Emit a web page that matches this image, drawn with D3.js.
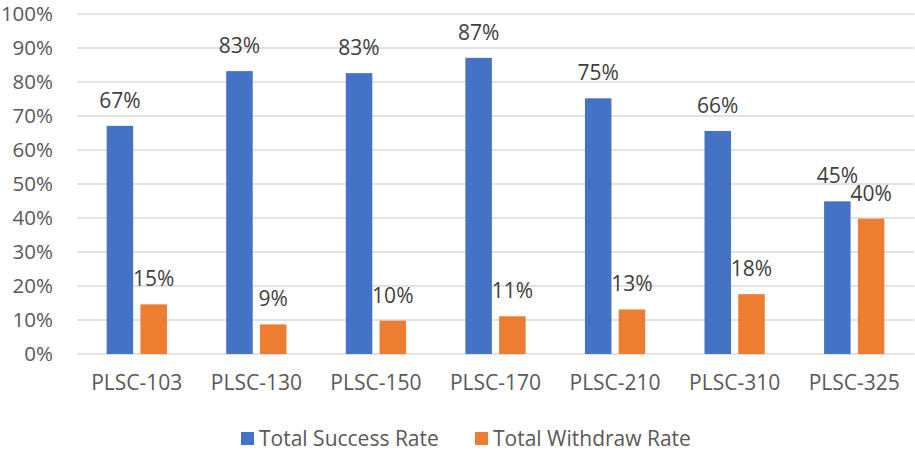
<!DOCTYPE html>
<html>
<head>
<meta charset="utf-8">
<script src="https://cdn.jsdelivr.net/npm/d3@7"></script>
<style>
  html, body { margin: 0; padding: 0; background: #fff; }
  svg { display: block; font-family: "Open Sans", "Noto Sans", sans-serif; }
</style>
</head>
<body>
<svg id="chart" width="915" height="454"></svg>
<script>
const categories = ["PLSC-103", "PLSC-130", "PLSC-150", "PLSC-170", "PLSC-210", "PLSC-310", "PLSC-325"];
const seriesNames = ["Total Success Rate", "Total Withdraw Rate"];
const successRate = [0.671, 0.832, 0.826, 0.871, 0.752, 0.656, 0.449];
const withdrawRate = [0.146, 0.087, 0.098, 0.111, 0.131, 0.176, 0.398];
const yTicks = [0, 0.1, 0.2, 0.3, 0.4, 0.5, 0.6, 0.7, 0.8, 0.9, 1.0];
const colors = ["#4472C4", "#ED7D31"];

(function () {
const svg = d3.select("#chart");
const mLeft = 77, mRight = 914, mTop = 14, mBottom = 354;
const fs = "20.5px";

const x0 = d3.scaleBand().domain(categories).range([mLeft, mRight]).paddingInner(0).paddingOuter(0);
const bw = x0.bandwidth();
const x1 = d3.scaleBand().domain(seriesNames).range([bw * 0.248, bw * 0.752]).paddingInner(0.215).paddingOuter(0);
const y = d3.scaleLinear().domain([0, 1]).range([mBottom, mTop]);

// gridlines
svg.append("g").selectAll("line").data(yTicks).join("line")
  .attr("x1", mLeft).attr("x2", mRight)
  .attr("y1", d => y(d)).attr("y2", d => y(d))
  .attr("stroke", "#d9d9d9").attr("stroke-width", 1.3);

// y axis labels
const yAxis = d3.axisLeft(y).tickValues(yTicks).tickFormat(d3.format(".0%")).tickSize(0).tickPadding(0);
const yg = svg.append("g").attr("transform", `translate(53,0)`).call(yAxis);
yg.select(".domain").remove();
yg.selectAll("text").attr("fill", "#595959").style("font-size", fs).style("font-family", "Open Sans, sans-serif");

// x axis labels
const xAxis = d3.axisBottom(x0).tickSize(0).tickPadding(0);
const xg = svg.append("g").attr("transform", `translate(0,375)`).call(xAxis);
xg.select(".domain").remove();
xg.selectAll("text").attr("fill", "#595959").style("font-size", "21px").style("font-family", "Open Sans, sans-serif");

const data = categories.map((c, i) => ({ cat: c, vals: [successRate[i], withdrawRate[i]] }));

const groups = svg.append("g").selectAll("g").data(data).join("g")
  .attr("transform", d => `translate(${x0(d.cat)},0)`);

groups.selectAll("rect").data(d => d.vals.map((v, j) => ({ s: seriesNames[j], v, j }))).join("rect")
  .attr("x", d => x1(d.s))
  .attr("width", x1.bandwidth())
  .attr("y", d => y(d.v))
  .attr("height", d => y(0) - y(d.v))
  .attr("fill", d => colors[d.j]);

groups.selectAll("text.lbl").data(d => d.vals.map((v, j) => ({ s: seriesNames[j], v, j }))).join("text")
  .attr("class", "lbl")
  .attr("x", d => x1(d.s) + x1.bandwidth() / 2)
  .attr("y", d => y(d.v) - 18)
  .attr("text-anchor", "middle")
  .attr("fill", "#404040")
  .style("font-size", "21px")
  .text(d => d3.format(".0%")(d.v));

// legend
const legendX = [241, 475];
const lg = svg.append("g").selectAll("g").data(seriesNames).join("g")
  .attr("transform", (d, i) => `translate(${legendX[i]},432)`);
lg.append("rect").attr("width", 13).attr("height", 13).attr("fill", (d, i) => colors[i]);
lg.append("text").attr("x", 18).attr("y", 13.5).attr("fill", "#595959").style("font-size", "21px").text(d => d);
})();
</script>
</body>
</html>
